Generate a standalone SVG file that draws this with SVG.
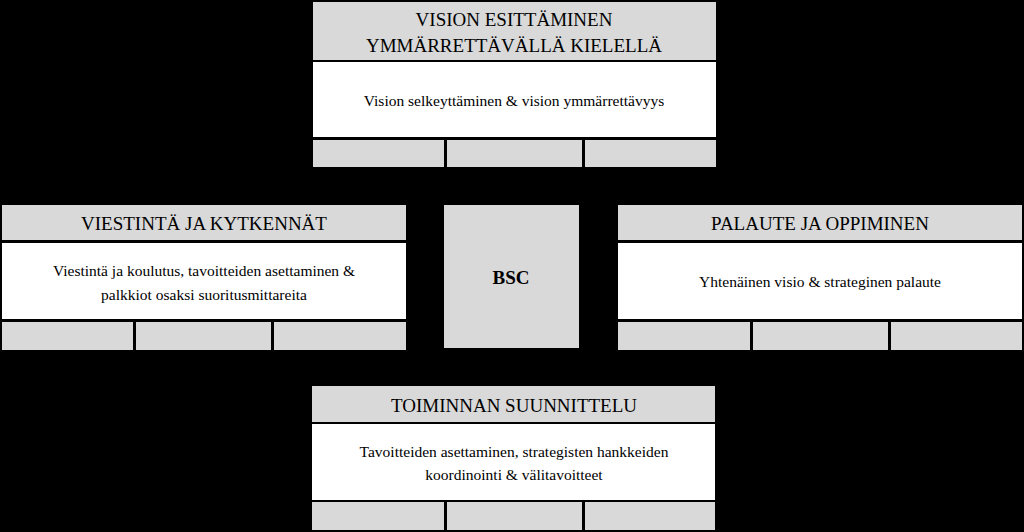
<svg xmlns="http://www.w3.org/2000/svg" width="1024" height="532" viewBox="0 0 1024 532">
<style>
.g{fill:#d9d9d9}.w{fill:#fff}
text{font-family:"Liberation Serif",serif;fill:#000;text-anchor:middle}
.h{font-size:19px}.b{font-size:15.5px}
</style>
<rect width="1024" height="532" fill="#000"/>
<g id="vision">
<rect class="g" x="313" y="2" width="403" height="58"/>
<rect class="w" x="313" y="62" width="403" height="75"/>
<rect class="g" x="313" y="140" width="131" height="27"/>
<rect class="g" x="447" y="140" width="135" height="27"/>
<rect class="g" x="585" y="140" width="131" height="27"/>
<text class="h" x="514" y="26">VISION ESITTÄMINEN</text>
<text class="h" x="514" y="52">YMMÄRRETTÄVÄLLÄ KIELELLÄ</text>
<text class="b" x="514" y="106">Vision selkeyttäminen  &amp; vision ymmärrettävyys</text>
</g>
<g id="viestinta">
<rect class="g" x="2" y="205" width="404" height="35"/>
<rect class="w" x="2" y="243" width="404" height="76"/>
<rect class="g" x="2" y="322" width="131" height="28"/>
<rect class="g" x="136" y="322" width="135" height="28"/>
<rect class="g" x="274" y="322" width="132" height="28"/>
<text class="h" x="204" y="230">VIESTINTÄ JA KYTKENNÄT</text>
<text class="b" x="204" y="276">Viestintä ja koulutus, tavoitteiden asettaminen &amp;</text>
<text class="b" x="204" y="300">palkkiot osaksi suoritusmittareita</text>
</g>
<g id="bsc">
<rect class="g" x="444" y="205" width="135" height="143"/>
<text x="511" y="284" style="font-size:19px;font-weight:bold">BSC</text>
</g>
<g id="palaute">
<rect class="g" x="618" y="205" width="404" height="35"/>
<rect class="w" x="618" y="243" width="404" height="76"/>
<rect class="g" x="618" y="322" width="132" height="28"/>
<rect class="g" x="753" y="322" width="135" height="28"/>
<rect class="g" x="891" y="322" width="131" height="28"/>
<text class="h" x="820" y="230">PALAUTE JA OPPIMINEN</text>
<text class="b" x="820" y="287">Yhtenäinen visio &amp; strateginen palaute</text>
</g>
<g id="toiminta">
<rect class="g" x="312" y="386" width="403" height="36"/>
<rect class="w" x="312" y="424" width="403" height="76"/>
<rect class="g" x="312" y="502" width="132" height="28"/>
<rect class="g" x="447" y="502" width="135" height="28"/>
<rect class="g" x="585" y="502" width="130" height="28"/>
<text class="h" x="514" y="412">TOIMINNAN SUUNNITTELU</text>
<text class="b" x="514" y="457">Tavoitteiden asettaminen, strategisten hankkeiden</text>
<text class="b" x="514" y="480">koordinointi &amp; välitavoitteet</text>
</g>
<g id="connectors"/>
</svg>
